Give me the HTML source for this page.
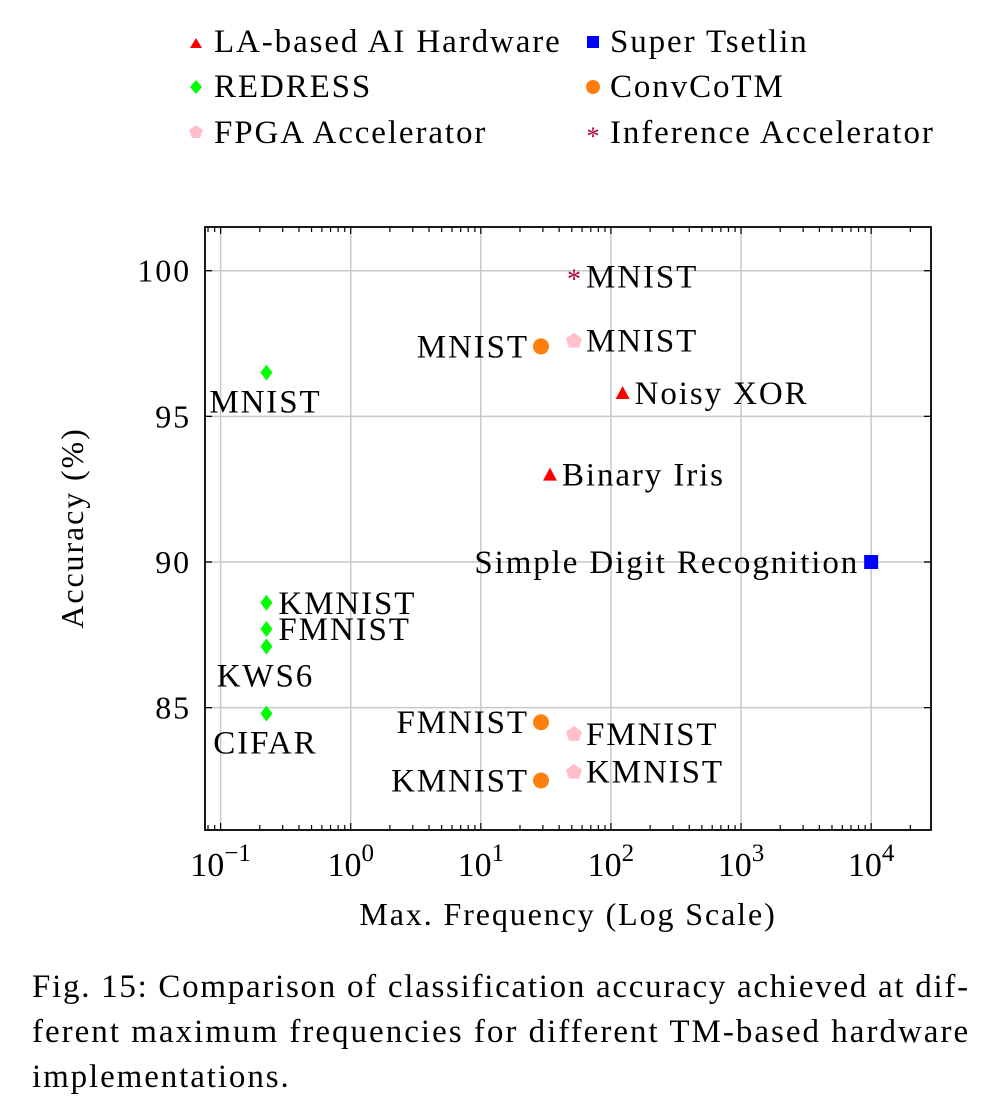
<!DOCTYPE html>
<html><head><meta charset="utf-8"><style>
body{margin:0;background:#fff;}
svg text{font-family:"Liberation Serif",serif;fill:#000;}
.w{letter-spacing:1.9px;}
</style></head><body>
<svg width="994" height="1108" viewBox="0 0 994 1108">
<g id="legend" font-size="33" class="w">
  <polygon points="190,48 196,38 202,48" fill="#f00"/>
  <text x="214" y="52">LA-based AI Hardware</text>
  <rect x="587" y="36" width="12" height="12" fill="#00f"/>
  <text x="610" y="52">Super Tsetlin</text>
  <polygon points="196,80 202,87 196,94 190,87" fill="#0f0"/>
  <text x="214" y="97">REDRESS</text>
  <circle cx="593" cy="87" r="7" fill="#ff7f0e"/>
  <text x="610" y="97">ConvCoTM</text>
  <polygon points="196,125 203,130 200,138 192,138 189,130" fill="#ffc0cb"/>
  <text x="214" y="143">FPGA Accelerator</text>
  <text x="593" y="145" font-size="26" text-anchor="middle" style="fill:#b0003a;letter-spacing:0">*</text>
  <text x="610" y="143">Inference Accelerator</text>
</g>
<g id="plot"></g>
<text x="568" y="925" font-size="32" class="w" text-anchor="middle">Max. Frequency (Log Scale)</text>
<text transform="translate(83,528) rotate(-90)" font-size="32" class="w" text-anchor="middle">Accuracy (%)</text>
<g font-size="33" class="w">
<text x="32" y="997" textLength="938" lengthAdjust="spacing">Fig. 15: Comparison of classification accuracy achieved at dif-</text>
<text x="32" y="1042" textLength="938" lengthAdjust="spacing">ferent maximum frequencies for different TM-based hardware</text>
<text x="32" y="1087">implementations.</text>
</g>
</svg>
<script>
const seriesNames=['la','super','redress','convcotm','fpga','inference'];
const laX=[123,34], laY=[95.8,93.0], laLabels=['Noisy XOR','Binary Iris'];
const superX=[10000], superY=[90], superLabels=['Simple Digit Recognition'];
const redressX=[0.225,0.225,0.225,0.225,0.225], redressY=[96.5,88.6,87.7,87.1,84.8], redressLabels=['MNIST','KMNIST','FMNIST','KWS6','CIFAR'];
const convX=[29,29,29], convY=[97.4,84.5,82.5], convLabels=['MNIST','FMNIST','KMNIST'];
const fpgaX=[52,52,52], fpgaY=[97.6,84.1,82.8], fpgaLabels=['MNIST','FMNIST','KMNIST'];
const infX=[52], infY=[99.8], infLabels=['MNIST'];
const yTicks=[85,90,95,100];
const xTicks=[-1,0,1,2,3,4];

const L=205,R=931,T=227,B=830;
const xMin=-1.12,xMax=4.46,yMin=80.8,yMax=101.5;
const sx=v=>L+(Math.log10(v)-xMin)/(xMax-xMin)*(R-L);
const sxl=l=>L+(l-xMin)/(xMax-xMin)*(R-L);
const sy=v=>B-(v-yMin)/(yMax-yMin)*(B-T);
const NS='http://www.w3.org/2000/svg';
const g=document.getElementById('plot');
function mk(tag,attrs,parent){const e=document.createElementNS(NS,tag);for(const k in attrs)e.setAttribute(k,attrs[k]);(parent||g).appendChild(e);return e;}
xTicks.forEach(l=>{const x=sxl(l);
  const ln=mk('line',{x1:x,x2:x,y1:T,y2:B,stroke:'#c8c8c8','stroke-width':1.5});
  
  
  const t=mk('text',{x:x,y:876,'font-size':34,'text-anchor':'middle'});
  
  
  t.textContent='10';
  const s=mk('tspan',{dy:-15,'font-size':25},t);s.textContent=(l<0?'\u2212':'')+Math.abs(l);
});
yTicks.forEach(v=>{const y=sy(v);
  const ln=mk('line',{x1:L,x2:R,y1:y,y2:y,stroke:'#c8c8c8','stroke-width':1.5});
  
  
  mk('line',{x1:L,x2:L+7,y1:y,y2:y,stroke:'#000','stroke-width':1.3});
  mk('line',{x1:R,x2:R-7,y1:y,y2:y,stroke:'#000','stroke-width':1.3});
  const t=mk('text',{x:L-14,y:y+11,'font-size':32,'text-anchor':'end',class:'w'});
  
  
  t.textContent=v;
});
for(let d=-2;d<=4;d++){for(let m=1;m<=9;m++){const l=d+Math.log10(m);if(l<xMin||l>xMax)continue;const x=sxl(l);const len=m===1?7:5;
  mk('line',{x1:x,x2:x,y1:B,y2:B-len,stroke:'#000','stroke-width':1.2});
  mk('line',{x1:x,x2:x,y1:T,y2:T+len,stroke:'#000','stroke-width':1.2});}}
const fr=mk('rect',{x:L,y:T,width:R-L,height:B-T,fill:'none',stroke:'#000','stroke-width':1.8});


function label(x,y,txt,pos){let tx=x,ty=y+11,a='start';
  if(pos==='r'){tx=x+12;}else if(pos==='l'){tx=x-12;a='end';}else if(pos==='b'){tx=x-1;ty=y+40;a='middle';}
  const t=mk('text',{x:tx,y:ty,'font-size':33,'text-anchor':a,class:'w'});
  
  
  t.textContent=txt;}
function marker(type,x,y){let e;
  if(type==='la')e=mk('polygon',{points:`${x-7},${y+6} ${x},${y-7} ${x+7},${y+6}`,fill:'#f00'});
  else if(type==='super')e=mk('rect',{x:x-7,y:y-7,width:14,height:14,fill:'#00f'});
  else if(type==='redress')e=mk('polygon',{points:`${x},${y-8} ${x+6},${y} ${x},${y+8} ${x-6},${y}`,fill:'#0f0'});
  else if(type==='convcotm')e=mk('circle',{cx:x,cy:y,r:8,fill:'#ff7f0e'});
  else if(type==='fpga')e=mk('polygon',{points:`${x},${y-8} ${x+8},${y-2} ${x+5},${y+7} ${x-5},${y+7} ${x-8},${y-2}`,fill:'#ffc0cb'});
  else {e=mk('text',{x:x,y:y+12,'font-size':28,'text-anchor':'middle',style:'fill:#b0003a'});e.textContent='*';}
  return e;}
function series(type,X,Y,Lb,posFn){X.forEach((xv,i)=>{const x=sx(xv),y=sy(Y[i]);
  const m=marker(type,x,y);
  
  
  label(x,y,Lb[i],posFn(i));});}
series('la',laX,laY,laLabels,()=> 'r');
series('super',superX,superY,superLabels,()=> 'l');
series('redress',redressX,redressY,redressLabels,i=>(i===0||i===3||i===4)?'b':'r');
series('convcotm',convX,convY,convLabels,()=> 'l');
series('fpga',fpgaX,fpgaY,fpgaLabels,()=> 'r');
series('inference',infX,infY,infLabels,()=> 'r');
</script>
</body></html>
